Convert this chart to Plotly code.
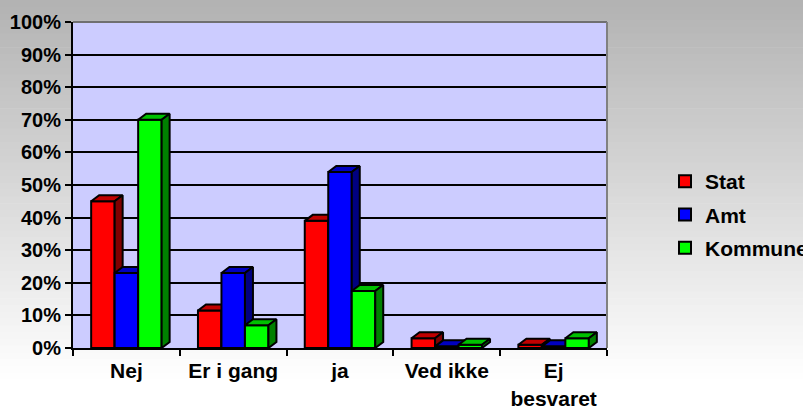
import plotly.graph_objects as go

# ---- data ----
categories = ["Nej", "Er i gang", "ja", "Ved ikke", "Ej<br>besvaret"]
series_names = ["Stat", "Amt", "Kommune"]
stat = [45, 11.5, 39, 3, 1]
amt = [23, 23, 54, 0.5, 0.5]
kommune = [70, 7, 17.5, 1, 3]
y_tick_values = [0, 10, 20, 30, 40, 50, 60, 70, 80, 90, 100]
y_tick_labels = ["0%", "10%", "20%", "30%", "40%", "50%", "60%", "70%", "80%", "90%", "100%"]

# ---- styles ----
front_colors = ["#FF0000", "#0000FF", "#00FF00"]
top_colors = ["#C00000", "#0000C0", "#00C000"]
side_colors = ["#800000", "#000080", "#008000"]

W, H = 803, 407
ML, MR, MT, MB = 73, 196, 22, 59
plot_w = W - ML - MR
plot_h = H - MT - MB
x_range = [-0.5, len(categories) - 0.5]
y_range = [0, 100]
bar_w = 0.22
group_start = -0.33
dx = 8 * (x_range[1] - x_range[0]) / plot_w
dy = 6 * (y_range[1] - y_range[0]) / plot_h
FONT = "Liberation Sans, Arial, sans-serif"

fig = go.Figure()

all_series = [stat, amt, kommune]
for i, (name, vals) in enumerate(zip(series_names, all_series)):
    fx, fy, tx, ty, sx, sy = [], [], [], [], [], []
    for j, v in enumerate(vals):
        xl = j + group_start + i * bar_w
        xr = xl + bar_w
        fx += [xl, xr, xr, xl, xl, None]
        fy += [0, 0, v, v, 0, None]
        tx += [xl, xr, xr + dx, xl + dx, xl, None]
        ty += [v, v, v + dy, v + dy, v, None]
        sx += [xr, xr + dx, xr + dx, xr, xr, None]
        sy += [0, dy, v + dy, v, 0, None]
    for px, py, col in [(fx, fy, front_colors[i]), (tx, ty, top_colors[i]), (sx, sy, side_colors[i])]:
        fig.add_trace(go.Scatter(
            x=px, y=py, mode="lines", fill="toself", fillcolor=col,
            line=dict(color="black", width=2), showlegend=False, hoverinfo="skip",
            connectgaps=False,
        ))

for i, name in enumerate(series_names):
    fig.add_trace(go.Scatter(
        x=[None], y=[None], mode="markers", name=name,
        marker=dict(symbol="square", size=12, color=front_colors[i],
                    line=dict(color="black", width=2)),
        legendgroup=name,
    ))

# background gradient (paper) + plot area fill
shapes = []
nb = 60
for k in range(nb):
    y0px = H * k / nb
    y1px = H * (k + 1) / nb
    t = min(1.0, ((y0px + y1px) / 2) / 380.0)
    c = int(round(178 + (255 - 178) * t))
    shapes.append(dict(
        type="rect", xref="paper", yref="paper", layer="below",
        x0=-1, x1=2,
        y0=(H - MB - y1px) / plot_h - 0.001, y1=(H - MB - y0px) / plot_h + 0.001,
        fillcolor=f"rgb({c},{c},{c})", line=dict(width=0),
    ))
shapes.append(dict(type="rect", xref="paper", yref="paper", layer="below",
                   x0=0, x1=1, y0=0, y1=1, fillcolor="#CCCCFF", line=dict(width=0)))
shapes.append(dict(type="line", xref="paper", yref="paper", layer="above",
                   x0=0, x1=1, y0=1, y1=1, line=dict(color="#707070", width=2)))
shapes.append(dict(type="line", xref="paper", yref="paper", layer="above",
                   x0=1, x1=1, y0=0, y1=1, line=dict(color="#808080", width=2)))

fig.update_layout(
    width=W, height=H,
    margin=dict(l=ML, r=MR, t=MT, b=MB, autoexpand=False),
    paper_bgcolor="#ffffff",
    plot_bgcolor="rgba(0,0,0,0)",
    shapes=shapes,
    font=dict(family=FONT, size=20, color="black", weight="bold"),
    legend=dict(
        x=(665 - ML) / plot_w, xanchor="left",
        y=(H - MB - 161) / plot_h, yanchor="top",
        bgcolor="rgba(0,0,0,0)", borderwidth=0,
        font=dict(family=FONT, size=21, color="black", weight="bold"),
        tracegroupgap=3, traceorder="grouped",
    ),
    xaxis=dict(
        range=x_range, tickmode="array", tickvals=list(range(len(categories))),
        ticktext=categories, ticks="", showgrid=False, zeroline=False,
        showline=True, linecolor="black", linewidth=2,
        minor=dict(tick0=-0.5, dtick=1, ticks="outside", ticklen=6, tickwidth=2,
                   tickcolor="black", showgrid=False),
        tickfont=dict(family=FONT, size=21, color="black", weight="bold"),
        ticklabelstandoff=3,
        fixedrange=True,
    ),
    yaxis=dict(
        range=y_range, tickmode="array", tickvals=y_tick_values, ticktext=y_tick_labels,
        ticks="outside", ticklen=6, tickwidth=2, tickcolor="black",
        showline=True, linecolor="black", linewidth=2,
        showgrid=True, gridcolor="black", gridwidth=2, zeroline=False,
        tickfont=dict(family=FONT, size=20, color="black", weight="bold"),
        fixedrange=True,
    ),
    hovermode=False,
)

fig.write_html("out.html", config={"displayModeBar": False},
               post_script="document.body.style.margin='0';document.body.style.overflow='hidden';")
